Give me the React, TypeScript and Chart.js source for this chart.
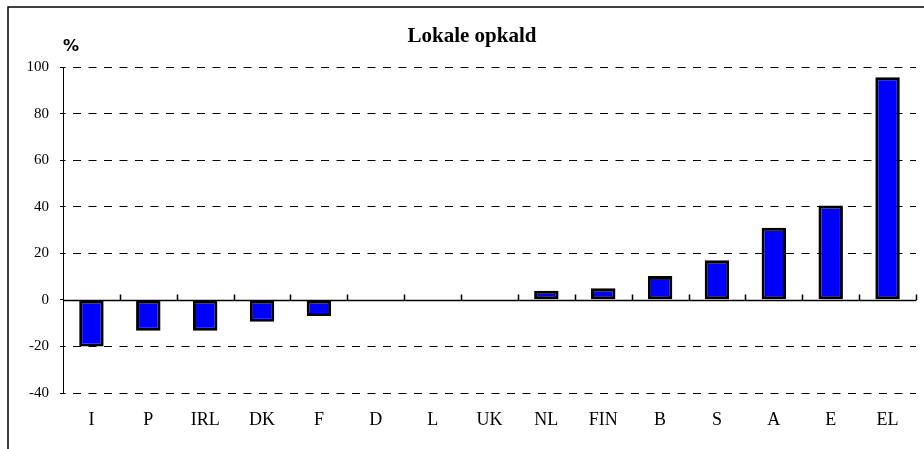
import React, { useEffect, useRef } from "react";
import { Chart, registerables } from "chart.js";

Chart.register(...registerables);

const categories = ["I", "P", "IRL", "DK", "F", "D", "L", "UK", "NL", "FIN", "B", "S", "A", "E", "EL"];
const values = [-20, -13.3, -13.3, -9.4, -6.9, 0, 0, 0, 3.9, 5.0, 10.2, 17.0, 31.0, 40.5, 95.6];
const yTicks = [-40, -20, 0, 20, 40, 60, 80, 100];
const titleText = "Lokale opkald";
const unitText = "%";

const framePlugin = {
  id: "frame",
  beforeDraw(chart: any) {
    const ctx = chart.ctx;
    ctx.save();
    ctx.fillStyle = "#fff";
    ctx.fillRect(0, 0, chart.width, chart.height);
    ctx.restore();
  },
  afterDraw(chart: any) {
    const ctx = chart.ctx;
    const { left, right } = chart.chartArea;
    const x = chart.scales.x;
    const y = chart.scales.y;
    ctx.save();
    ctx.strokeStyle = "#000";
    ctx.lineWidth = 1.5;
    ctx.beginPath();
    ctx.moveTo(8, chart.height);
    ctx.lineTo(8, 7);
    ctx.lineTo(chart.width, 7);
    ctx.stroke();
    const y0 = Math.round(y.getPixelForValue(0)) + 0.5;
    ctx.lineWidth = 1.5;
    ctx.beginPath();
    ctx.moveTo(left, y0);
    ctx.lineTo(right, y0);
    const n = categories.length;
    const step = (right - left) / n;
    for (let i = 1; i <= n; i++) {
      const px = Math.round(x.getPixelForValue(i - 1) + step / 2) + 0.5;
      ctx.moveTo(px, y0);
      ctx.lineTo(px, y0 - 6);
    }
    ctx.stroke();
    ctx.fillStyle = "#000";
    ctx.font = 'bold 21px "Liberation Serif"';
    ctx.textAlign = "center";
    ctx.textBaseline = "alphabetic";
    ctx.fillText(titleText, 472, 42);
    ctx.font = 'bold 16px "DejaVu Sans"';
    ctx.textAlign = "left";
    ctx.fillText(unitText, 63, 51);
    ctx.restore();
  },
};

export default function App() {
  const ref = useRef<HTMLCanvasElement | null>(null);
  useEffect(() => {
    if (!ref.current) return;
    const chart = new Chart(ref.current, {
      type: "bar",
      data: {
        labels: categories,
        datasets: [
          {
            data: values,
            backgroundColor: "#0000FF",
            borderColor: "#000",
            borderWidth: 3,
            borderSkipped: false,
            barPercentage: 0.43,
            categoryPercentage: 1,
          },
        ],
      },
      options: {
        responsive: false,
        animation: false,
        layout: { padding: { top: 67, right: 8, left: 0, bottom: 0 } },
        plugins: { legend: { display: false }, tooltip: { enabled: false }, title: { display: false } },
        scales: {
          x: {
            grid: { display: false, drawTicks: false },
            border: { display: false },
            ticks: {
              color: "#000",
              font: { family: '"Liberation Serif"', size: 18 },
              padding: 16,
              maxRotation: 0,
              autoSkip: false,
            },
            afterFit(scale: any) {
              scale.height = 56;
            },
          },
          y: {
            min: -40,
            max: 100,
            afterBuildTicks(scale: any) {
              scale.ticks = yTicks.map((v) => ({ value: v }));
            },
            grid: {
              color: (c: any) => (c.tick && c.tick.value === 0 ? "rgba(0,0,0,0)" : "#000"),
              lineWidth: 1,
              tickLength: 3,
              tickColor: "#000",
              tickBorderDash: [],
            },
            border: { display: true, color: "#000", width: 1, dash: [8, 7.5], dashOffset: 6.5 } as any,
            ticks: {
              color: "#000",
              font: { family: '"Liberation Serif"', size: 15 },
              padding: 11,
            },
            afterFit(scale: any) {
              scale.width = 63;
            },
          },
        },
      },
      plugins: [framePlugin],
    });
    return () => chart.destroy();
  }, []);
  return (
    <div style={{ position: "absolute", left: 0, top: 0, width: 924, height: 449, background: "#fff" }}>
      <canvas ref={ref} width={924} height={449} style={{ width: 924, height: 449, display: "block" }} />
    </div>
  );
}
